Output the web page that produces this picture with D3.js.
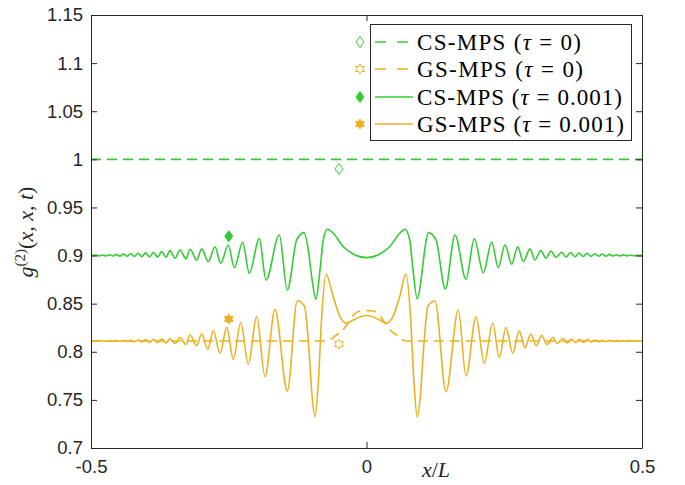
<!DOCTYPE html>
<html>
<head>
<meta charset="utf-8">
<script src="https://cdn.jsdelivr.net/npm/d3@7"></script>
<style>
  body { margin: 0; background: #fff; }
  svg { display: block; }
</style>
</head>
<body>
<svg class="chart" width="685" height="485"></svg>
<script>
// axis setup
var xTicks = [-0.5, 0, 0.5];
var xTickLabels = ["-0.5", "0", "0.5"];
var yTicks = [0.7, 0.75, 0.8, 0.85, 0.9, 0.95, 1, 1.05, 1.1, 1.15];
var yTickLabels = ["0.7", "0.75", "0.8", "0.85", "0.9", "0.95", "1", "1.05", "1.1", "1.15"];

// CS-MPS (tau = 0)
var cs0X = [-0.5, 0.5];
var cs0Y = [1, 1];

// GS-MPS (tau = 0)
var gs0X = [-0.5, -0.0735, -0.0662, -0.0572, -0.0426, -0.0299, -0.0209, -0.0118, 0, 0.0118, 0.0209, 0.0299, 0.0426, 0.0572, 0.0662, 0.0735, 0.5];
var gs0Y = [0.8112, 0.8112, 0.8122, 0.8164, 0.8226, 0.8330, 0.8398, 0.8424, 0.8429, 0.8424, 0.8398, 0.8330, 0.8226, 0.8164, 0.8122, 0.8112, 0.8112];

// CS-MPS (tau = 0.001)
var csX = [-0.5, -0.4909, -0.4849, -0.4788, -0.4728, -0.4664, -0.4601, -0.4537, -0.4474, -0.4410,
  -0.4347, -0.4279, -0.4214, -0.4147, -0.4078, -0.4011, -0.3938, -0.3866, -0.3793, -0.3717,
  -0.3639, -0.3566, -0.3475, -0.3385, -0.3276, -0.3203, -0.3082, -0.2991, -0.2871, -0.2750,
  -0.2646, -0.2508, -0.2399, -0.2247, -0.2127, -0.1946, -0.1824, -0.1583, -0.1437, -0.1267,
  -0.1134, -0.1056, -0.0995, -0.0917, -0.0844, -0.0784, -0.0711, -0.0603, -0.0421, -0.0240,
  0, 0.0240, 0.0421, 0.0603, 0.0699, 0.0784, 0.0844, 0.0922, 0.0998, 0.1056,
  0.1122, 0.1261, 0.1430, 0.1606, 0.1806, 0.1956, 0.2120, 0.2272, 0.2392, 0.2514,
  0.2635, 0.2744, 0.2846, 0.2967, 0.3058, 0.3162, 0.3258, 0.3348, 0.3439, 0.3543,
  0.3621, 0.3702, 0.3784, 0.3857, 0.3929, 0.4002, 0.4074, 0.4147, 0.4214, 0.4279,
  0.4347, 0.4410, 0.4474, 0.4537, 0.4601, 0.4664, 0.4728, 0.4791, 0.4855, 0.4918, 0.5];
var csY = [0.9000, 0.9004, 0.8997, 0.9006, 0.8996, 0.9008, 0.8995, 0.9012, 0.8994, 0.9016,
  0.8992, 0.9021, 0.8990, 0.9024, 0.8988, 0.9028, 0.8985, 0.9033, 0.8984, 0.9041,
  0.8982, 0.9051, 0.8972, 0.9058, 0.8968, 0.9065, 0.8954, 0.9069, 0.8937, 0.9092,
  0.8920, 0.9107, 0.8874, 0.9138, 0.8816, 0.9176, 0.8746, 0.9214, 0.8642, 0.9162,
  0.9238, 0.9058, 0.8781, 0.8546, 0.8850, 0.9162, 0.9273, 0.9232, 0.9092, 0.9017,
  0.8978, 0.9017, 0.9092, 0.9232, 0.9273, 0.9162, 0.8850, 0.8549, 0.8781, 0.9058,
  0.9238, 0.9162, 0.8653, 0.9214, 0.8754, 0.9173, 0.8822, 0.9141, 0.8874, 0.9113,
  0.8910, 0.9092, 0.8937, 0.9069, 0.8954, 0.9051, 0.8972, 0.9048, 0.8982, 0.9034,
  0.8985, 0.9031, 0.8988, 0.9027, 0.8990, 0.9023, 0.8992, 0.9019, 0.8993, 0.9016,
  0.8994, 0.9012, 0.8995, 0.9009, 0.8996, 0.9007, 0.8997, 0.9005, 0.8998, 0.9003, 0.9000];

// GS-MPS (tau = 0.001)
var gsX = [-0.5, -0.4909, -0.4849, -0.4788, -0.4728, -0.4664, -0.4601, -0.4537, -0.4474, -0.4410,
  -0.4347, -0.4279, -0.4214, -0.4147, -0.4078, -0.4011, -0.3938, -0.3866, -0.3793, -0.3717,
  -0.3639, -0.3566, -0.3475, -0.3385, -0.3276, -0.3203, -0.3082, -0.2991, -0.2882, -0.2780,
  -0.2659, -0.2537, -0.2417, -0.2283, -0.2145, -0.1993, -0.1842, -0.1661, -0.1437, -0.1256,
  -0.1125, -0.1044, -0.0989, -0.0935, -0.0875, -0.0813, -0.0735, -0.0603, -0.0481, -0.0359,
  -0.0240, 0, 0.0240, 0.0359, 0.0481, 0.0603, 0.0717, 0.0799, 0.0862, 0.0922,
  0.0980, 0.1034, 0.1116, 0.1243, 0.1443, 0.1666, 0.1806, 0.1987, 0.2138, 0.2290,
  0.2410, 0.2532, 0.2653, 0.2773, 0.2877, 0.2980, 0.3082, 0.3180, 0.3276, 0.3385,
  0.3457, 0.3566, 0.3639, 0.3717, 0.3793, 0.3866, 0.3938, 0.4011, 0.4078, 0.4147,
  0.4214, 0.4279, 0.4347, 0.4410, 0.4474, 0.4537, 0.4601, 0.4664, 0.4728, 0.4791,
  0.4855, 0.4918, 0.5];
var gsY = [0.8112, 0.8113, 0.8111, 0.8114, 0.8110, 0.8115, 0.8109, 0.8116, 0.8108, 0.8118,
  0.8106, 0.8120, 0.8104, 0.8122, 0.8102, 0.8126, 0.8098, 0.8129, 0.8095, 0.8133,
  0.8091, 0.8138, 0.8086, 0.8148, 0.8076, 0.8174, 0.8063, 0.8185, 0.8026, 0.8219,
  0.7984, 0.8254, 0.7922, 0.8302, 0.7870, 0.8365, 0.7741, 0.8441, 0.7592, 0.8531,
  0.8476, 0.8018, 0.7551, 0.7325, 0.7675, 0.8365, 0.8805, 0.8572, 0.8365, 0.8296,
  0.8330, 0.8377, 0.8330, 0.8296, 0.8365, 0.8572, 0.8808, 0.8365, 0.7675, 0.7325,
  0.7551, 0.8018, 0.8476, 0.8528, 0.7585, 0.8434, 0.7748, 0.8361, 0.7880, 0.8299,
  0.7941, 0.8252, 0.7987, 0.8216, 0.8039, 0.8185, 0.8063, 0.8169, 0.8076, 0.8148,
  0.8086, 0.8138, 0.8091, 0.8133, 0.8095, 0.8129, 0.8098, 0.8126, 0.8102, 0.8122,
  0.8104, 0.8120, 0.8106, 0.8118, 0.8107, 0.8117, 0.8108, 0.8116, 0.8109, 0.8115,
  0.8110, 0.8113, 0.8112];

// single marker points
var cs0Marker = [-0.05, 0.99];
var gs0Marker = [-0.05, 0.808];
var csMarker = [-0.25, 0.92];
var gsMarker = [-0.25, 0.834];

var legendNames = ["CS-MPS", "GS-MPS", "CS-MPS", "GS-MPS"];
var legendTaus = ["0", "0", "0.001", "0.001"];

var green = "#33cc33";
var orange = "#edb120";
var axisColor = "#262626";

var chart = d3.select(".chart");
var margin = {top: 15, right: 43, bottom: 37, left: 91};
var width = 685 - margin.left - margin.right;
var height = 485 - margin.top - margin.bottom;

var x = d3.scaleLinear().domain([-0.5, 0.5]).range([0, width]);
var y = d3.scaleLinear().domain([0.7, 1.15]).range([height, 0]);

var g = chart.append("g").attr("transform", "translate(" + margin.left + "," + margin.top + ")");

var line = d3.line()
  .x(function(d) { return x(d[0]); })
  .y(function(d) { return y(d[1]); })
  .curve(d3.curveMonotoneX);

var diamond = function(w, h) {
  return "M0," + (-h) + "L" + w + ",0L0," + h + "L" + (-w) + ",0Z";
}
var hexagram = function(R) {
  var pts = [];
  for (var k = 0; k < 12; k++) {
    var a = -Math.PI / 2 + k * Math.PI / 6;
    var rr = (k % 2 == 0) ? R : R / Math.sqrt(3);
    pts.push([(rr * Math.cos(a)).toFixed(2), (rr * Math.sin(a)).toFixed(2)]);
  }
  return "M" + pts.join("L") + "Z";
}

//===== CURVES =======
g.append("path").attr("d", line(d3.zip(cs0X, cs0Y)))
  .attr("fill", "none").attr("stroke", green).attr("stroke-width", 1.6).attr("stroke-dasharray", "10,6");
g.append("path").attr("d", line(d3.zip(gs0X, gs0Y)))
  .attr("fill", "none").attr("stroke", orange).attr("stroke-width", 1.6).attr("stroke-dasharray", "10,6");
g.append("path").attr("d", line(d3.zip(csX, csY)))
  .attr("fill", "none").attr("stroke", green).attr("stroke-width", 1.6);
g.append("path").attr("d", line(d3.zip(gsX, gsY)))
  .attr("fill", "none").attr("stroke", orange).attr("stroke-width", 1.6);

//===== MARKERS =======
var markers = [
  {p: cs0Marker, d: diamond(4, 5.5), fill: "white", color: green},
  {p: gs0Marker, d: hexagram(5), fill: "white", color: orange},
  {p: csMarker, d: diamond(4, 5.5), fill: green, color: green},
  {p: gsMarker, d: hexagram(5), fill: orange, color: orange}
];
g.selectAll(".mark").data(markers).enter().append("path")
  .attr("class", "mark")
  .attr("transform", function(d) { return "translate(" + x(d.p[0]) + "," + y(d.p[1]) + ")"; })
  .attr("d", function(d) { return d.d; })
  .attr("fill", function(d) { return d.fill; })
  .attr("stroke", function(d) { return d.color; })
  .attr("stroke-width", 1);

//===== AXES =======
var yAxis = g.append("g").call(d3.axisLeft(y).tickValues(yTicks)
  .tickFormat(function(d, i) { return yTickLabels[i]; })
  .tickSizeInner(-6).tickSizeOuter(0).tickPadding(8));
var yAxisR = g.append("g").attr("transform", "translate(" + width + ",0)")
  .call(d3.axisRight(y).tickValues(yTicks).tickFormat("").tickSizeInner(-6).tickSizeOuter(0));
var xAxis = g.append("g").attr("transform", "translate(0," + height + ")")
  .call(d3.axisBottom(x).tickValues(xTicks)
  .tickFormat(function(d, i) { return xTickLabels[i]; })
  .tickSizeInner(-6).tickSizeOuter(0).tickPadding(12));
var xAxisT = g.append("g")
  .call(d3.axisTop(x).tickValues(xTicks).tickFormat("").tickSizeInner(-6).tickSizeOuter(0));

g.selectAll(".domain, .tick line").attr("stroke", axisColor).attr("stroke-width", 1);
g.selectAll(".tick text").attr("fill", axisColor)
  .style("font-family", "'Liberation Sans', Arial, sans-serif").style("font-size", "18.5px");

//===== AXIS LABELS =======
var ylab = chart.append("text")
  .attr("transform", "translate(33,232) rotate(-90)")
  .attr("text-anchor", "middle")
  .style("font-family", "'Liberation Serif', serif").style("font-size", "22px")
  .attr("fill", axisColor);
ylab.append("tspan").style("font-style", "italic").text("g");
ylab.append("tspan").attr("dy", -8).style("font-size", "15px").text("(2)");
ylab.append("tspan").attr("dy", 8).text("(");
ylab.append("tspan").style("font-style", "italic").text("x");
ylab.append("tspan").text(", ");
ylab.append("tspan").style("font-style", "italic").text("x");
ylab.append("tspan").text(", ");
ylab.append("tspan").style("font-style", "italic").text("t");
ylab.append("tspan").text(")");

var xlab = chart.append("text")
  .attr("x", 436).attr("y", 477)
  .attr("text-anchor", "middle")
  .style("font-family", "'Liberation Serif', serif").style("font-size", "22px")
  .attr("fill", axisColor);
xlab.append("tspan").style("font-style", "italic").text("x");
xlab.append("tspan").text("/");
xlab.append("tspan").style("font-style", "italic").text("L");

//===== LEGEND =======
var rowY = [42, 69, 97, 124];
var legendColors = [green, orange, green, orange];
var legendDash = ["11,11", "11,11", null, null];
chart.append("rect")
  .attr("x", 370.5).attr("y", 24.5).attr("width", 261).attr("height", 116)
  .attr("fill", "white").attr("stroke", axisColor).attr("stroke-width", 1);

var item = chart.selectAll(".leg").data(legendNames).enter().append("g")
  .attr("class", "leg")
  .attr("transform", function(d, i) { return "translate(0," + rowY[i] + ")"; });
item.append("line")
  .attr("x1", 375).attr("x2", function(d, i) { return legendDash[i] ? 408 : 413; })
  .attr("stroke", function(d, i) { return legendColors[i]; })
  .attr("stroke-width", 1.6)
  .attr("stroke-dasharray", function(d, i) { return legendDash[i]; });
item.append("path")
  .attr("transform", "translate(360,0)")
  .attr("d", function(d, i) { return markers[i].d; })
  .attr("fill", function(d, i) { return markers[i].fill; })
  .attr("stroke", function(d, i) { return markers[i].color; })
  .attr("stroke-width", 1);
var lt = item.append("text")
  .attr("x", 417).attr("y", 7.5)
  .attr("textLength", function(d, i) { return (legendTaus[i] == "0" ? 164 : 205) + (i % 2) * 2; })
  .attr("lengthAdjust", "spacing")
  .style("font-family", "'Liberation Serif', serif").style("font-size", "23px")
  .attr("fill", "#000");
lt.append("tspan").text(function(d) { return d + " ("; });
lt.append("tspan").style("font-style", "italic").text("τ");
lt.append("tspan").text(function(d, i) { return " = " + legendTaus[i] + ")"; });
</script>
</body>
</html>
